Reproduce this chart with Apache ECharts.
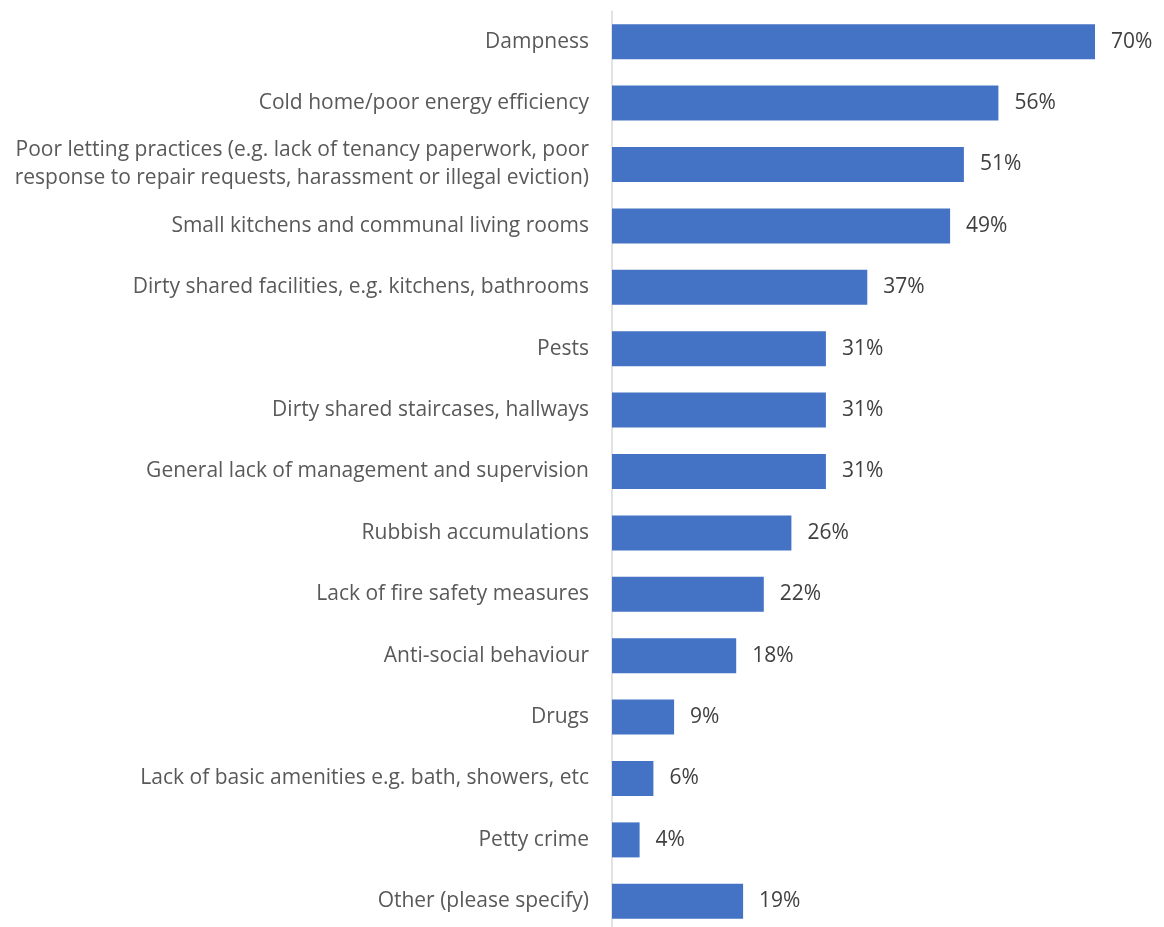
<!DOCTYPE html>
<html>
<head>
<meta charset="utf-8">
<script src="https://cdn.jsdelivr.net/npm/echarts@6/dist/echarts.min.js"></script>
<style>
  html, body { margin: 0; padding: 0; background: #fff; overflow: hidden; }
  #chart { width: 1164px; height: 940px; }
</style>
</head>
<body>
<div id="chart"></div>
<script>
// Issues reported in HMOs (percentage of respondents)
const categories = [
  'Dampness',
  'Cold home/poor energy efficiency',
  'Poor letting practices (e.g. lack of tenancy paperwork, poor\nresponse to repair requests, harassment or illegal eviction)',
  'Small kitchens and communal living rooms',
  'Dirty shared facilities, e.g. kitchens, bathrooms',
  'Pests',
  'Dirty shared staircases, hallways',
  'General lack of management and supervision',
  'Rubbish accumulations',
  'Lack of fire safety measures',
  'Anti-social behaviour',
  'Drugs',
  'Lack of basic amenities e.g. bath, showers, etc',
  'Petty crime',
  'Other (please specify)'
];
const values = [70, 56, 51, 49, 37, 31, 31, 31, 26, 22, 18, 9, 6, 4, 19];

const chart = echarts.init(document.getElementById('chart'));
chart.setOption({
  animation: false,
  textStyle: { fontFamily: '"Open Sans", sans-serif' },
  grid: { left: 612, top: 11, width: 555, height: 921, containLabel: false },
  xAxis: {
    type: 'value',
    min: 0,
    max: 80,
    show: false
  },
  yAxis: {
    type: 'category',
    data: categories,
    inverse: true,
    axisLine: { show: true, lineStyle: { color: '#d9d9d9', width: 1.5 } },
    axisTick: { show: false },
    axisLabel: {
      margin: 23,
      color: '#595959',
      fontSize: 21,
      lineHeight: 28,
      align: 'right'
    }
  },
  series: [{
    type: 'bar',
    data: values,
    barWidth: 35,
    itemStyle: { color: '#4472C4' },
    label: {
      show: true,
      position: 'right',
      distance: 16,
      formatter: '{c}%',
      color: '#404040',
      fontSize: 21
    }
  }]
});
</script>
</body>
</html>
